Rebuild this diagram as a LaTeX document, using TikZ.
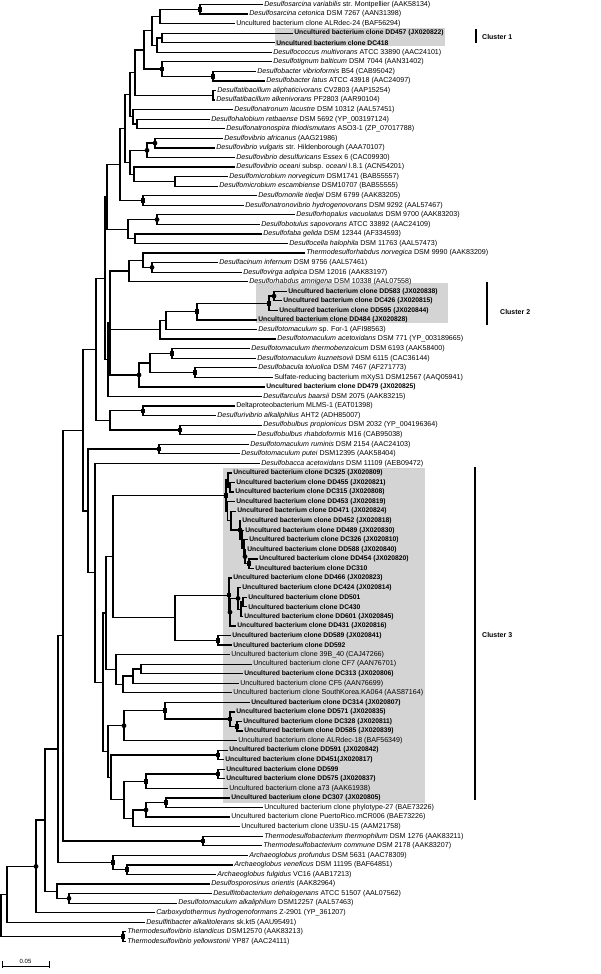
\documentclass[tikz,border=0pt]{standalone}
\usepackage{fontspec}
\setmainfont{Liberation Sans}
\usetikzlibrary{calc}
\definecolor{boxgray}{RGB}{212,212,212}
\tikzset{
 br/.style={line width=1.25pt},
 lab/.style={anchor=west, inner sep=0pt, outer sep=0pt, xshift=1.3pt, font=\fontsize{7.1}{8}\selectfont},
 blab/.style={lab, font=\fontsize{6.75}{8}\selectfont\bfseries},
 sqm/.style={rectangle, fill=black, inner sep=0pt, minimum size=4.6pt},
 cim/.style={circle, fill=black, inner sep=0pt, minimum size=4.8pt},
 cbar/.style={line width=1.4pt},
 clab/.style={anchor=west, inner sep=0pt, font=\fontsize{7}{8}\selectfont\bfseries},
}
\newcommand\tleaf[3]{\coordinate (l#1) at (#2,{4.5+(#1-1)*9.56});\node[lab] (t#1) at (l#1) {#3};}
\newcommand\tbleaf[3]{\coordinate (l#1) at (#2,{4.5+(#1-1)*9.56});\node[blab] (t#1) at (l#1) {Uncultured bacterium clone #3};}
\newcommand\tnode[4]{\path let \p1=(#3), \p2=(#4) in (#2pt,{(\y1+\y2)/2}) coordinate (#1);\draw[br] (#3) -| (#1) |- (#4);}
\newcommand\tnodeiii[5]{\path let \p1=(#3), \p2=(#5) in (#2pt,{(\y1+\y2)/2}) coordinate (#1);\draw[br] (#3) -| (#1) |- (#5);\draw[br] (#4) -| (#1);}
\newcommand\msq[1]{\node[sqm] (m#1) at (#1) {};}
\newcommand\mci[1]{\node[cim] (m#1) at (#1) {};}
\begin{document}
\begin{tikzpicture}[x=1pt,y=-1pt]
\useasboundingbox (0,0) rectangle (600,974);
% cluster boxes
\fill[boxgray] (275,28.3) rectangle (445,46);
\fill[boxgray] (256,282.7) rectangle (448,322.7);
\fill[boxgray] (222.7,468) rectangle (425,803);
% leaves
\tleaf{1}{263}{\textit{Desulfosarcina variabilis} str. Montpellier (AAK58134)}
\tleaf{2}{248}{\textit{Desulfosarcina cetonica} DSM 7267 (AAN31398)}
\tleaf{3}{235}{Uncultured bacterium clone ALRdec-24 (BAF56294)}
\tbleaf{4}{293}{DD457 (JX020822)}
\tbleaf{5}{275}{DC418}
\tleaf{6}{272}{\textit{Desulfococcus multivorans} ATCC 33890 (AAC24101)}
\tleaf{7}{272}{\textit{Desulfotignum balticum} DSM 7044 (AAN31402)}
\tleaf{8}{256}{\textit{Desulfobacter vibrioformis} B54 (CAB95042)}
\tleaf{9}{265}{\textit{Desulfobacter latus} ATCC 43918 (AAC24097)}
\tleaf{10}{216}{\textit{Desulfatibacillum aliphaticivorans} CV2803 (AAP15254)}
\tleaf{11}{215}{\textit{Desulfatibacillum alkenivorans} PF2803 (AAR90104)}
\tleaf{12}{233}{\textit{Desulfonatronum lacustre} DSM 10312 (AAL57451)}
\tleaf{13}{210}{\textit{Desulfohalobium retbaense} DSM 5692 (YP\_003197124)}
\tleaf{14}{225}{\textit{Desulfonatronospira thiodismutans} ASO3-1 (ZP\_07017788)}
\tleaf{15}{223}{\textit{Desulfovibrio africanus} (AAG21986)}
\tleaf{16}{215}{\textit{Desulfovibrio vulgaris} str. Hildenborough (AAA70107)}
\tleaf{17}{235}{\textit{Desulfovibrio desulfuricans} Essex 6 (CAC09930)}
\tleaf{18}{235}{\textit{Desulfovibrio oceani} subsp. \textit{oceani} I.8.1 (ACN54201)}
\tleaf{19}{228}{\textit{Desulfomicrobium norvegicum} DSM1741 (BAB55557)}
\tleaf{20}{218}{\textit{Desulfomicrobium escambiense} DSM10707 (BAB55555)}
\tleaf{21}{257}{\textit{Desulfomonile tiedjei} DSM 6799 (AAK83205)}
\tleaf{22}{244}{\textit{Desulfonatronovibrio hydrogenovorans} DSM 9292 (AAL57467)}
\tleaf{23}{295}{\textit{Desulforhopalus vacuolatus} DSM 9700 (AAK83203)}
\tleaf{24}{260}{\textit{Desulfobotulus sapovorans} ATCC 33892 (AAC24109)}
\tleaf{25}{262}{\textit{Desulfofaba gelida} DSM 12344 (AF334593)}
\tleaf{26}{288}{\textit{Desulfocella halophila} DSM 11763 (AAL57473)}
\tleaf{27}{305}{\textit{Thermodesulforhabdus norvegica} DSM 9990 (AAK83209)}
\tleaf{28}{218}{\textit{Desulfacinum infernum} DSM 9756 (AAL57461)}
\tleaf{29}{242}{\textit{Desulfovirga adipica} DSM 12016 (AAK83197)}
\tleaf{30}{248}{\textit{Desulforhabdus amnigena} DSM 10338 (AAL07558)}
\tbleaf{31}{287}{DD583 (JX020838)}
\tbleaf{32}{282}{DC426 (JX020815)}
\tbleaf{33}{278}{DD595 (JX020844)}
\tbleaf{34}{257}{DD484 (JX020828)}
\tleaf{35}{257}{\textit{Desulfotomaculum} sp. For-1 (AFI98563)}
\tleaf{36}{276}{\textit{Desulfotomaculum acetoxidans} DSM 771 (YP\_003189665)}
\tleaf{37}{250}{\textit{Desulfotomaculum thermobenzoicum} DSM 6193 (AAK58400)}
\tleaf{38}{256}{\textit{Desulfotomaculum kuznetsovii} DSM 6115 (CAC36144)}
\tleaf{39}{257}{\textit{Desulfobacula toluolica} DSM 7467 (AF271773)}
\tleaf{40}{273}{Sulfate-reducing bacterium mXyS1 DSM12567 (AAQ05941)}
\tbleaf{41}{265}{DD479 (JX020825)}
\tleaf{42}{262}{\textit{Desulfarculus baarsii} DSM 2075 (AAK83215)}
\tleaf{43}{235}{Deltaproteobacterium MLMS-1 (EAT01398)}
\tleaf{44}{216}{\textit{Desulfurivibrio alkaliphilus} AHT2 (ADH85007)}
\tleaf{45}{262}{\textit{Desulfobulbus propionicus} DSM 2032 (YP\_004196364)}
\tleaf{46}{256}{\textit{Desulfobulbus rhabdoformis} M16 (CAB95038)}
\tleaf{47}{249}{\textit{Desulfotomaculum ruminis} DSM 2154 (AAC24103)}
\tleaf{48}{240}{\textit{Desulfotomaculum putei} DSM12395 (AAK58404)}
\tleaf{49}{260}{\textit{Desulfobacca acetoxidans} DSM 11109 (AEB09472)}
\tbleaf{50}{232}{DC325 (JX020809)}
\tbleaf{51}{235}{DD455 (JX020821)}
\tbleaf{52}{234}{DC315 (JX020808)}
\tbleaf{53}{235}{DD453 (JX020819)}
\tbleaf{54}{236}{DD471 (JX020824)}
\tbleaf{55}{241}{DD452 (JX020818)}
\tbleaf{56}{244}{DD489 (JX020830)}
\tbleaf{57}{248}{DC326 (JX020810)}
\tbleaf{58}{246}{DD588 (JX020840)}
\tbleaf{59}{258}{DD454 (JX020820)}
\tbleaf{60}{254}{DC310}
\tbleaf{61}{232}{DD466 (JX020823)}
\tbleaf{62}{241}{DC424 (JX020814)}
\tbleaf{63}{247}{DD501}
\tbleaf{64}{247}{DC430}
\tbleaf{65}{243}{DD601 (JX020845)}
\tbleaf{66}{236}{DD431 (JX020816)}
\tbleaf{67}{231}{DD589 (JX020841)}
\tbleaf{68}{232}{DD592}
\tleaf{69}{230}{Uncultured bacterium clone 39B\_40 (CAJ47266)}
\tleaf{70}{252}{Uncultured bacterium clone CF7 (AAN76701)}
\tbleaf{71}{243}{DC313 (JX020806)}
\tleaf{72}{239}{Uncultured bacterium clone CF5 (AAN76699)}
\tleaf{73}{232}{Uncultured bacterium clone SouthKorea.KA064 (AAS87164)}
\tbleaf{74}{250}{DC314 (JX020807)}
\tbleaf{75}{235}{DD571 (JX020835)}
\tbleaf{76}{242}{DC328 (JX020811)}
\tbleaf{77}{243}{DD585 (JX020839)}
\tleaf{78}{237}{Uncultured bacterium clone ALRdec-18 (BAF56349)}
\tbleaf{79}{228}{DD591 (JX020842)}
\tbleaf{80}{224}{DD451(JX020817)}
\tbleaf{81}{225}{DD599}
\tbleaf{82}{225}{DD575 (JX020837)}
\tleaf{83}{228}{Uncultured bacterium clone a73 (AAK61938)}
\tbleaf{84}{230}{DC307 (JX020805)}
\tleaf{85}{263}{Uncultured bacterium clone phylotype-27 (BAE73226)}
\tleaf{86}{230}{Uncultured bacterium clone PuertoRico.mCR006 (BAE73226)}
\tleaf{87}{240}{Uncultured bacterium clone U3SU-15 (AAM21758)}
\tleaf{88}{263}{\textit{Thermodesulfobacterium thermophilum} DSM 1276 (AAK83211)}
\tleaf{89}{262}{\textit{Thermodesulfobacterium commune} DSM 2178 (AAK83207)}
\tleaf{90}{248}{\textit{Archaeoglobus profundus} DSM 5631 (AAC78309)}
\tleaf{91}{233}{\textit{Archaeoglobus veneficus} DSM 11195 (BAF64851)}
\tleaf{92}{216}{\textit{Archaeoglobus fulgidus} VC16 (AAB17213)}
\tleaf{93}{210}{\textit{Desulfosporosinus orientis} (AAK82964)}
\tleaf{94}{212}{\textit{Desulfitobacterium dehalogenans} ATCC 51507 (AAL07562)}
\tleaf{95}{177}{\textit{Desulfotomaculum alkaliphilum} DSM12257 (AAL57463)}
\tleaf{96}{155}{\textit{Carboxydothermus hydrogenoformans} Z-2901 (YP\_361207)}
\tleaf{97}{145}{\textit{Desulfitibacter alkalitolerans} sk.kt5 (AAU95491)}
\tleaf{98}{126}{\textit{Thermodesulfovibrio islandicus} DSM12570 (AAK83213)}
\tleaf{99}{126}{\textit{Thermodesulfovibrio yellowstonii} YP87 (AAC24111)}
% internal nodes
\tnode{A}{200}{l1}{l2}
\tnode{B}{160}{A}{l3}
\tnode{C}{162}{l4}{l5}
\tnode{Cp}{157}{C}{l6}
\tnode{D}{152}{B}{Cp}
\tnode{G}{213}{l8}{l9}
\tnode{F}{162}{l7}{G}
\tnode{E}{144}{D}{F}
\tnode{H}{213}{l10}{l11}
\tnode{I}{135}{E}{H}
\tnode{K}{137}{l13}{l14}
\tnode{J}{133}{l12}{K}
\tnode{L}{130}{I}{J}
\tnode{O}{155}{l15}{l16}
\tnode{P}{147}{O}{l17}
\tnode{R}{175}{l19}{l20}
\tnode{Q}{134}{l18}{R}
\tnode{S}{130}{P}{Q}
\tnode{M}{125}{L}{S}
\tnode{T}{143}{l21}{l22}
\tnode{U}{120}{M}{T}
\tnode{V}{157}{l23}{l24}
\tnode{X}{135}{l25}{l26}
\tnode{W}{128}{V}{X}
\tnode{AN}{107}{U}{W}
\tnode{Y}{152}{l28}{l29}
\tnode{Z}{143}{l27}{Y}
\tnode{AA}{129}{Z}{l30}
\tnode{AC}{274}{l31}{l32}
\tnode{AD}{269}{AC}{l33}
\tnode{AE}{197}{AD}{l34}
\tnode{AF}{166}{AE}{l35}
\tnode{AG}{160}{AF}{l36}
\tnode{AI}{172}{l37}{l38}
\tnode{AJ}{195}{l39}{l40}
\tnode{AK}{150}{AI}{AJ}
\tnode{AL}{139}{AK}{l41}
\tnodeiii{AB}{110}{AA}{AG}{AL}
\tnode{AM}{108}{AB}{l42}
\tnode{AO}{105}{AN}{AM}
\tnode{AQ}{143}{l43}{l44}
\tnode{AR}{180}{l45}{l46}
\tnode{AS}{110}{AQ}{AR}
\tnode{AT}{96}{AO}{AS}
\tnode{AV}{159}{l47}{l48}
\tnode{N51}{230}{l51}{l52}
\tnode{N50}{228}{l50}{N51}
\tnode{N60}{249}{l59}{l60}
\tnode{N58}{245}{l58}{N60}
\tnode{N57}{244}{l57}{N58}
\tnode{N56}{242}{l56}{N57}
\tnode{N55}{240}{l55}{N56}
\tnode{N54}{231}{l54}{N55}
\tnode{N53}{227.5}{l53}{N54}
\tnode{TC}{226}{N50}{N53}
\tnode{N63}{243}{l63}{l64}
\tnode{N62b}{241}{N63}{l65}
\tnode{N62}{238}{l62}{N62b}
\tnode{N61a}{230}{N62}{l66}
\tnode{N61}{229}{l61}{N61a}
\tnode{BA}{218}{l67}{l68}
\tnode{AZ}{175}{N61}{BA}
\tnode{AY}{113}{TC}{AZ}
\tnode{BB}{141}{l70}{l71}
\tnode{BC}{133}{BB}{l72}
\tnode{BD}{123}{BC}{l73}
\tnode{BE}{116}{l69}{BD}
\tnode{BI}{106}{AY}{BE}
\tnode{BO}{237}{l76}{l77}
\tnode{BN}{230}{l75}{BO}
\tnode{BM}{165}{l74}{BN}
\tnode{BP}{124}{BM}{l78}
\tnode{BR}{218}{l79}{l80}
\tnode{BS}{218}{l81}{l82}
\tnode{BT}{146}{BS}{l83}
\tnode{BW}{166}{l84}{l85}
\tnode{BX}{146}{BW}{l86}
\tnode{BY}{133}{BX}{l87}
\tnode{BU}{124}{BT}{BY}
\tnode{BQ}{111}{BR}{BU}
\tnode{BJ}{108}{BP}{BQ}
\tnode{BH}{103}{BI}{BJ}
\tnode{AX}{95}{l49}{BH}
\tnode{AW}{88}{AV}{AX}
\tnode{AU}{83}{AT}{AW}
\tnode{CA}{203}{l88}{l89}
\tnode{BZ}{63}{AU}{CA}
\tnode{CC}{127}{l91}{l92}
\tnode{CD}{113}{l90}{CC}
\tnode{CB}{58}{BZ}{CD}
\tnode{CF}{69}{l94}{l95}
\tnode{CG}{57}{l93}{CF}
\tnode{CE}{45}{CB}{CG}
\tnode{CH}{36}{CE}{l96}
\tnode{CI}{7}{CH}{l97}
\tnode{CJ}{123}{l98}{l99}
\tnode{RT}{1}{CI}{CJ}
% support markers
\msq{A}\msq{G}\msq{F}\msq{T}\msq{AD}\msq{AE}\msq{AI}\msq{AJ}\msq{AQ}\msq{AR}\msq{AV}
\msq{TC}\msq{N60}\msq{N61}\msq{BA}\msq{BO}\msq{BN}\msq{BM}\msq{BR}\msq{BS}\msq{BT}\msq{BW}
\msq{CA}\msq{CC}\msq{CD}\msq{CJ}
\mci{O}\mci{P}\mci{V}\mci{Y}\mci{AC}\mci{AL}\mci{N58}\mci{N55}\mci{N62}\mci{N61a}\mci{BP}\mci{BX}\mci{CF}\mci{CH}
% cluster bars
\coordinate (c1a) at (476,29); \coordinate (c1b) at (476,43);
\draw[cbar] (c1a) -- (c1b);
\node[clab] (cl1) at (482,36.7) {Cluster 1};
\coordinate (c2a) at (487,281.7); \coordinate (c2b) at (487,325);
\draw[cbar] (c2a) -- (c2b);
\node[clab] (cl2) at (500,311.7) {Cluster 2};
\coordinate (c3a) at (475,467); \coordinate (c3b) at (475,800);
\draw[cbar] (c3a) -- (c3b);
\node[clab] (cl3) at (482,635) {Cluster 3};
% scale bar
\coordinate (sb1) at (2,966.5); \coordinate (sb2) at (49,966.5);
\draw[line width=1pt] (2,961) -- (sb1) -- (sb2) -- (49,961);
\draw[line width=1pt] (2,968) -- (sb1);
\draw[line width=1pt] (49,968) -- (sb2);
\node[inner sep=0pt, font=\fontsize{6}{7}\selectfont] (sbl) at (25.5,961) {0.05};
\end{tikzpicture}
\end{document}
